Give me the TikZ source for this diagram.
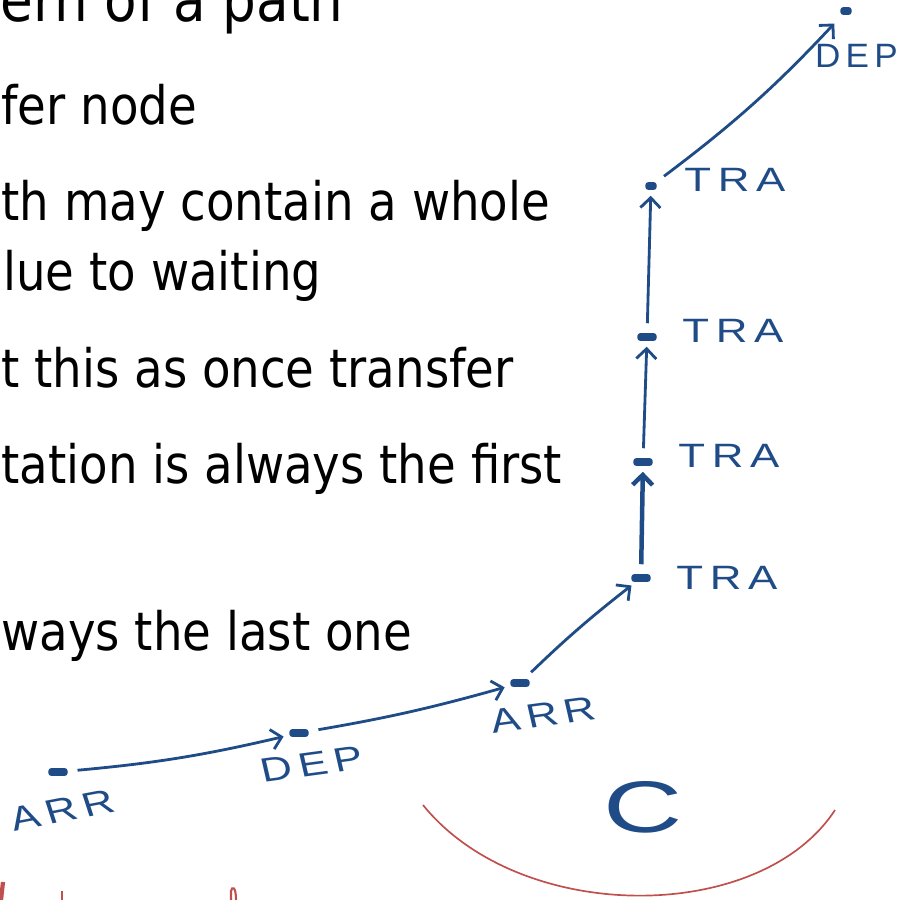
\documentclass[tikz,border=0pt]{standalone}
\usepackage{fontspec}
\setmainfont{DejaVu Sans}[FakeStretch=0.88]
\newfontfamily\handfont{Liberation Sans}[LetterSpace=15]
\newfontfamily\bigfont{Liberation Sans}
\usetikzlibrary{arrows.meta,positioning}
\definecolor{ink}{RGB}{31,76,135}
\definecolor{redink}{RGB}{192,80,77}

\begin{document}
\begin{tikzpicture}[x=0.025cm,y=-0.025cm,->,>={Straight Barb[length=2.5mm,width=5mm]},line width=2pt,node distance=5mm,
  slide/.style={anchor=base west,inner sep=0,text=black,font=\fontsize{37.7}{45}\selectfont},
  dot/.style={draw=ink,fill=ink,rounded corners=1.5pt,inner sep=0,minimum width=4.5mm,minimum height=1.6mm,line width=0.8pt},
  lbl/.style={text=ink,inner sep=0,xscale=1.3,font=\handfont\fontsize{24}{28}\selectfont},
  hop/.style={draw=ink,shorten <=2.5mm,shorten >=1.5mm}]
  \useasboundingbox (0,0) rectangle (899,900);
  % slide text behind the notes
  \node[slide,anchor=base east,font=\fontsize{43}{50}\selectfont] (title) at (345,22) {ern of a path};
  \node[slide] (l1) at (0,124) {fer node};
  \node[slide] (l2) at (0,220) {th may contain a whole};
  \node[slide] (l3) at (2,290) {lue to waiting};
  \node[slide] (l4) at (0,387) {t this as once transfer};
  \node[slide] (l5) at (0,483) {tation is always the first};
  \node[slide] (l6) at (0,650) {ways the last one};
  % stops
  \node[dot] (a1) at (58,772) {};
  \node[dot] (d1) at (299,733) {};
  \node[dot] (a2) at (520,683) {};
  \node[dot] (t1) at (641,578) {};
  \node[dot] (t2) at (643,462) {};
  \node[dot] (t3) at (647,337) {};
  \node[dot,minimum width=2.5mm] (t4) at (651,186) {};
  \node[dot,minimum width=2.5mm] (d2) at (846,11) {};
  \node[lbl,rotate=14] (a1l) [below=5.5mm of a1] {ARR};
  \node[lbl,rotate=10] (d1l) [below=4mm of d1,xshift=2mm] {DEP};
  \node[lbl,rotate=10] (a2l) [below=4.5mm of a2,xshift=4mm] {ARR};
  \node[lbl] (t1l) [right=6mm of t1] {TRA};
  \node[lbl] (t2l) [right=6mm of t2,yshift=1.5mm] {TRA};
  \node[lbl] (t3l) [right=6mm of t3,yshift=1.5mm] {TRA};
  \node[lbl] (t4l) [right=6.5mm of t4,yshift=1.5mm] {TRA};
  \node[lbl,xscale=0.8] (d2l) [below=7mm of d2,xshift=2.5mm] {DEP};
  \node[text=ink,inner sep=0,xscale=1.5,font=\bigfont\fontsize{52}{60}\selectfont] (c) at (643,807) {C};
  % hops
  \path (a1) edge[hop,bend right=4] (d1);
  \path (d1) edge[hop,bend right=3] (a2);
  \path (a2) edge[hop,bend left=3] (t1);
  \path (t1) edge[hop,line width=3.2pt] (t2);
  \path (t2) edge[hop] (t3);
  \path (t3) edge[hop] (t4);
  \path (t4) edge[hop,bend right=5,shorten >=3mm] (d2);
  % red marks
  \draw[-,redink,line width=1.2pt] (423,805) .. controls (520,925) and (760,925) .. (835,810);
  \draw[-,redink,line width=3pt] (3,882) -- (1,900);
  \draw[-,redink,line width=1pt] (62,891) -- (62,900);
  \draw[-,redink,line width=1.5pt] (231,900) -- (231,891) .. controls (232,886) and (236,886) .. (236,900);
\end{tikzpicture}
\end{document}
